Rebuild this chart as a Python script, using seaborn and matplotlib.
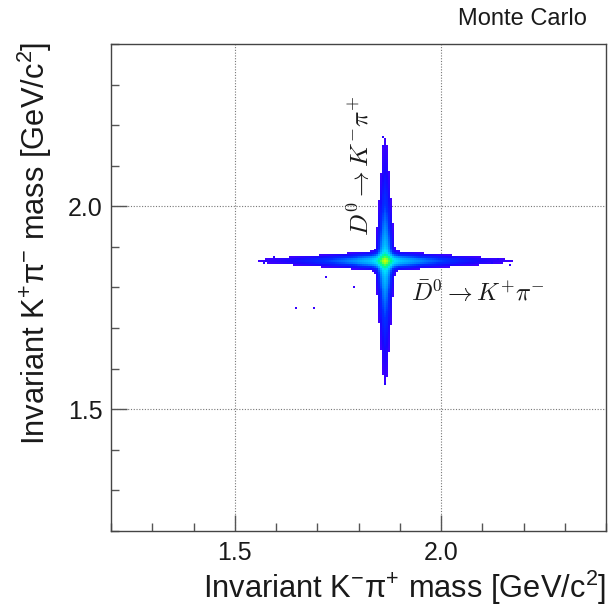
import numpy as np
import pandas as pd
import matplotlib
matplotlib.use("Agg")
import matplotlib.pyplot as plt
from matplotlib.colors import LinearSegmentedColormap, LogNorm
import seaborn as sns

# ---------------- data ----------------
d0_mass = 1.865                      # centre of the cross [GeV/c^2]
axis_min, axis_max = 1.2, 2.4
n_bins = 250

# distance from the centre along an arm [GeV/c^2]
arm_offset = [0.00, 0.01, 0.02, 0.04, 0.07, 0.10, 0.14, 0.18, 0.22, 0.26, 0.30, 0.34]
# counts on the arm core (horizontal arm: K-pi+ axis, vertical arm: K+pi- axis)
arm_peak_h = [150, 95, 62, 42, 29, 20, 12, 7.0, 4.0, 2.2, 1.2, 0.5]
arm_peak_v = [150, 95, 62, 42, 28, 19, 11, 6.5, 3.6, 2.0, 1.1, 0.5]
# width (sigma-like) of the arm across its direction [GeV/c^2]
arm_width = [0.0092, 0.0090, 0.0087, 0.0084, 0.0080, 0.0076, 0.0071, 0.0067, 0.0063, 0.0060, 0.0057, 0.0054]
# shape of the arm across its direction (in units of the width)
profile_u = [0.0, 0.5, 1.0, 1.5, 2.0, 2.5, 3.0, 3.5]
profile_v = [1.0, 0.86, 0.56, 0.29, 0.12, 0.04, 0.012, 0.003]

# isolated stray entries (x, y)
stray_x = [1.649, 1.572, 1.577, 1.722, 1.789, 1.693, 2.140, 2.169, 1.859, 1.866, 1.861, 1.598, 2.125]
stray_y = [1.750, 1.862, 1.866, 1.824, 1.800, 1.748, 1.871, 1.857, 2.171, 1.564, 2.150, 1.873, 1.859]

x_ticks = [1.5, 2.0]
y_ticks = [1.5, 2.0]
x_label = "Invariant K$^{-}$π$^{+}$ mass [GeV/c$^{2}$]"
y_label = "Invariant K$^{+}$π$^{-}$ mass [GeV/c$^{2}$]"

# ---------------- build the 2D histogram table ----------------
edges = np.linspace(axis_min, axis_max, n_bins + 1)
centres = 0.5 * (edges[:-1] + edges[1:])
XC, YC = np.meshgrid(centres, centres, indexing="ij")
dx = np.abs(XC - d0_mass)
dy = np.abs(YC - d0_mass)

h_arm = np.interp(dx, arm_offset, arm_peak_h, right=0) * \
    np.interp(dy / np.interp(dx, arm_offset, arm_width), profile_u, profile_v, right=0)
v_arm = np.interp(dy, arm_offset, arm_peak_v, right=0) * \
    np.interp(dx / np.interp(dy, arm_offset, arm_width), profile_u, profile_v, right=0)
counts = h_arm + v_arm
for sx, sy in zip(stray_x, stray_y):
    i = np.searchsorted(edges, sx) - 1
    j = np.searchsorted(edges, sy) - 1
    counts[i, j] += 1.3
counts[counts < 1.0] = 0.0

df = pd.DataFrame({"mKpi": XC.ravel(), "mKpi_bar": YC.ravel(), "w": counts.ravel()})
df = df[df["w"] > 0]

# ---------------- style ----------------
sns.set_style("white")
plt.rcParams["font.family"] = ["Liberation Sans", "DejaVu Sans"]
plt.rcParams["mathtext.fontset"] = "custom"
plt.rcParams["mathtext.rm"] = "Liberation Sans"
plt.rcParams["mathtext.it"] = "Liberation Sans:italic"
plt.rcParams["mathtext.bf"] = "Liberation Sans:bold"

root_cmap = LinearSegmentedColormap.from_list(
    "rootpal",
    [(0.00, "#4000ff"), (0.22, "#1808ff"), (0.42, "#0030ff"),
     (0.56, "#0088ff"), (0.72, "#00e0ff"), (0.86, "#00ff80"),
     (1.00, "#c8ff00")])

fig = plt.figure(figsize=(6.09, 6.09), dpi=100)
ax = fig.add_axes([111 / 609, 78 / 609, 495 / 609, 487 / 609])

sns.histplot(data=df, x="mKpi", y="mKpi_bar", weights="w", bins=[edges, edges],
             cmap=root_cmap, thresh=0.5, ax=ax, zorder=2)
mesh = ax.collections[0]
mesh.set_norm(LogNorm(vmin=1, vmax=300))

ax.set_xlim(axis_min, axis_max)
ax.set_ylim(axis_min, axis_max)
ax.set_xlabel("")
ax.set_ylabel("")

ax.set_xticks(x_ticks)
ax.set_yticks(y_ticks)
ax.set_xticklabels([f"{t:.1f}" for t in x_ticks])
ax.set_yticklabels([f"{t:.1f}" for t in y_ticks])
ax.xaxis.set_minor_locator(matplotlib.ticker.MultipleLocator(0.1))
ax.yaxis.set_minor_locator(matplotlib.ticker.MultipleLocator(0.1))
ax.tick_params(which="both", direction="in", top=False, right=False,
               bottom=True, left=True, color="#555555", width=1.0)
ax.tick_params(which="major", length=11.5, labelsize=18, labelcolor="#1a1a1a")
ax.tick_params(which="minor", length=5.8)
ax.tick_params(axis="x", which="major", pad=7)
ax.tick_params(axis="y", which="major", pad=6)
for s in ax.spines.values():
    s.set_visible(True)
    s.set_color("#444444")
    s.set_linewidth(1.0)

ax.set_axisbelow(True)
ax.grid(True, which="major", linestyle=(0, (1, 1.5)), color="#777777", linewidth=0.8)

fig.text(606 / 609, 1 - 598 / 609, x_label, ha="right", va="baseline", fontsize=22.2, color="#1a1a1a")
fig.text(34.5 / 609, 1 - 243 / 609, y_label, ha="center", va="center", rotation=90,
         fontsize=22.2, color="#1a1a1a")
fig.text(587 / 609, 1 - 25 / 609, "Monte Carlo", ha="right", va="baseline", fontsize=17, color="#1a1a1a")

ax.text(1.805, 2.10, r"$D^{0} \rightarrow K^{-}\pi^{+}$", rotation=90, ha="center", va="center",
        fontsize=18.5, math_fontfamily="cm", zorder=3, color="#1a1a1a")
ax.text(1.927, 1.787, r"$\bar{D}^{0} \rightarrow K^{+}\pi^{-}$", ha="left", va="center",
        fontsize=17.8, math_fontfamily="cm", zorder=3, color="#1a1a1a")

fig.savefig("out.png", dpi=100, facecolor="white")
